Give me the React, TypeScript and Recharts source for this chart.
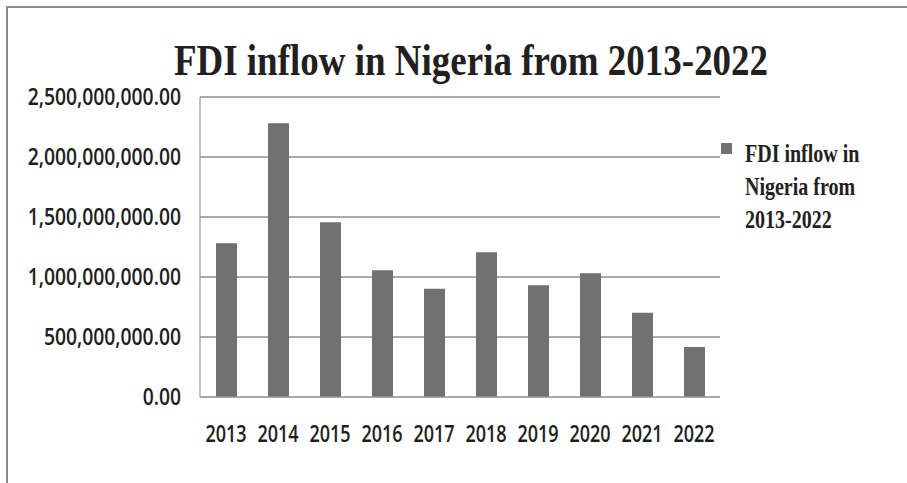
import { BarChart, Bar, XAxis, YAxis, CartesianGrid } from 'recharts';

const years = ['2013', '2014', '2015', '2016', '2017', '2018', '2019', '2020', '2021', '2022'];
const fdiInflow = [
  1281000000, 2281000000, 1456000000, 1056000000, 903000000,
  1206000000, 931000000, 1031000000, 703000000, 417000000,
];
const yTicks = [0, 500000000, 1000000000, 1500000000, 2000000000, 2500000000];
const seriesName = 'FDI inflow in Nigeria from 2013-2022';
const legendLines = ['FDI inflow in', 'Nigeria from', '2013-2022'];

const data = years.map((year, i) => ({ year, value: fdiInflow[i] }));

const tickFont = '"Open Sans", "Noto Sans", sans-serif';
const serifFont = '"Liberation Serif", "Times New Roman", serif';

const fmt = (v: number) =>
  v.toLocaleString('en-US', { minimumFractionDigits: 2, maximumFractionDigits: 2 });

// reference text is stretched a bit vertically, so ticks get a scaleY
function YTick(props: any) {
  const { x, y, payload } = props;
  return (
    <g transform={`translate(${x - 19}, ${y}) scale(1, 1.21)`}>
      <text x={0} y={0} dy={7} textAnchor="end" fontFamily={tickFont} fontWeight={600} fontSize={19.3} fill="#1e1e1e">
        {fmt(payload.value)}
      </text>
    </g>
  );
}

function XTick(props: any) {
  const { x, y, payload } = props;
  return (
    <g transform={`translate(${x}, ${y + 45}) scale(1, 1.3)`}>
      <text x={0} y={0} textAnchor="middle" fontFamily={tickFont} fontWeight={600} fontSize={18} fill="#1e1e1e">
        {payload.value}
      </text>
    </g>
  );
}

export default function App() {
  return (
    <div style={{ position: 'absolute', left: 0, top: 0, width: 907, height: 483, background: '#fff', overflow: 'hidden' }}>
      {/* outer frame */}
      <div
        style={{
          position: 'absolute', left: 6, top: 6, width: 940, height: 520,
          borderLeft: '2px solid #8c8c8c', borderTop: '2px solid #8c8c8c',
        }}
      />
      <div style={{ position: 'absolute', left: 0, top: 0 }}>
        <BarChart width={907} height={483} data={data} margin={{ top: 97, right: 187, left: 10, bottom: 46 }}>
          <CartesianGrid vertical={false} stroke="#8c8c8c" strokeWidth={1.6} />
          <XAxis
            dataKey="year"
            tickLine={false}
            tickSize={0}
            tickMargin={0}
            axisLine={{ stroke: '#a6a6a6', strokeWidth: 1.2 }}
            tick={<XTick />}
            height={40}
            interval={0}
          />
          <YAxis
            width={190}
            domain={[0, 2500000000]}
            ticks={yTicks}
            tickLine={false}
            tickSize={0}
            tickMargin={0}
            axisLine={{ stroke: '#9a9a9a', strokeWidth: 1.2 }}
            tick={<YTick />}
            interval={0}
          />
          <Bar dataKey="value" name={seriesName} fill="#717171" barSize={21} isAnimationActive={false} />
        </BarChart>
      </div>
      <svg width={907} height={483} style={{ position: 'absolute', left: 0, top: 0, pointerEvents: 'none' }}>
        <g transform="translate(471, 75) scale(1, 1.2)">
          <text x={0} y={0} textAnchor="middle" fontFamily={serifFont} fontWeight="bold" fontSize={37} fill="#231f20">
            {seriesName}
          </text>
        </g>
        <rect x={721} y={143} width={11} height={11} fill="#717171" />
        {legendLines.map((line, i) => (
          <g key={line} transform={`translate(745, ${162 + i * 33}) scale(1, 1.28)`}>
            <text x={0} y={0} fontFamily={serifFont} fontWeight="bold" fontSize={20} fill="#231f20">
              {line}
            </text>
          </g>
        ))}
      </svg>
    </div>
  );
}
